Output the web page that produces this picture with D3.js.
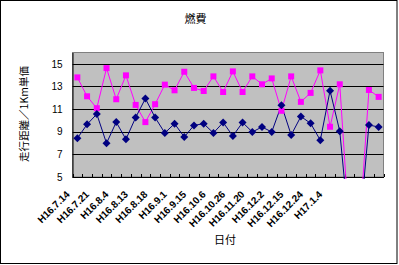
<!DOCTYPE html>
<html>
<head>
<meta charset="utf-8">
<script src="https://cdn.jsdelivr.net/npm/d3@7"></script>
<style>
  body { margin: 0; background: #fff; }
  text { font-family: "Liberation Sans", Arial, sans-serif; }
  .jp { font-family: "Noto Sans CJK JP", sans-serif; }
</style>
</head>
<body>
<div id="chart"></div>
<script>
// category labels shown on every 2nd tick (last ones are blank in the source)
const tickLabels = ['H16.7.14', 'H16.7.21', 'H16.8.4', 'H16.8.13', 'H16.8.18', 'H16.9.1',
  'H16.9.15', 'H16.10.6', 'H16.10.26', 'H16.11.20', 'H16.12.2', 'H16.12.15', 'H16.12.24', 'H17.1.4'];

// pink series (squares)
const pinkValues = [13.8, 12.13, 11.08, 14.62, 11.87, 13.98, 11.37, 9.85, 11.43, 13.16,
  12.66, 14.3, 12.87, 12.6, 13.89, 12.51, 14.33, 12.51, 13.89, 13.19,
  13.71, 10.85, 13.89, 11.64, 12.43, 14.42, 9.44, 13.19, 0, 0, 12.69, 12.08];

// navy series (diamonds)
const navyValues = [8.42, 9.65, 10.56, 7.98, 9.85, 8.33, 10.26, 11.93, 10.26, 8.89,
  9.71, 8.54, 9.56, 9.71, 8.89, 9.82, 8.62, 9.82, 8.98, 9.42,
  8.98, 11.35, 8.71, 10.35, 9.74, 8.25, 12.63, 9.04, 0, 0, 9.59, 9.42];

const yTicks = [5, 7, 9, 11, 13, 15];

const width = 399, height = 265;
const plot = { left: 72.5, right: 383.5, top: 52.5, bottom: 177 };

const svg = d3.select('#chart').append('svg')
  .attr('width', width)
  .attr('height', height);

// outer frame
svg.append('rect')
  .attr('x', 0.5).attr('y', 0.5)
  .attr('width', 396.5).attr('height', 263)
  .attr('fill', '#fff')
  .attr('stroke', '#000');

const x = d3.scaleBand()
  .domain(d3.range(pinkValues.length))
  .range([plot.left, plot.right]);

const y = d3.scaleLinear()
  .domain([5, 16])
  .range([plot.bottom, plot.top]);

// plot area
svg.append('rect')
  .attr('x', plot.left).attr('y', plot.top)
  .attr('width', plot.right - plot.left).attr('height', plot.bottom - plot.top)
  .attr('fill', '#c0c0c0')
  .attr('stroke', '#808080');

// gridlines
svg.append('g')
  .selectAll('line')
  .data(yTicks.filter(d => d > 5))
  .enter().append('line')
  .attr('x1', plot.left).attr('x2', plot.right)
  .attr('y1', d => Math.round(y(d)) + 0.5)
  .attr('y2', d => Math.round(y(d)) + 0.5)
  .attr('stroke', '#000');

// y axis
const yAxis = svg.append('g')
  .attr('transform', 'translate(' + plot.left + ',0)')
  .call(d3.axisLeft(y).tickValues(yTicks).tickSize(0).tickPadding(10));
yAxis.select('.domain').attr('stroke', '#000');
yAxis.selectAll('text').attr('font-size', 10).attr('fill', '#000');

// x axis: ticks between categories, pointing inward
const boundaries = d3.range(pinkValues.length + 1).map(i => plot.left + i * x.bandwidth());
svg.append('g')
  .selectAll('line')
  .data(boundaries)
  .enter().append('line')
  .attr('x1', d => Math.round(d) + 0.5).attr('x2', d => Math.round(d) + 0.5)
  .attr('y1', plot.bottom).attr('y2', plot.bottom - 3)
  .attr('stroke', '#000');

svg.append('line')
  .attr('x1', plot.left).attr('x2', plot.right + 0.5)
  .attr('y1', plot.bottom + 0.5).attr('y2', plot.bottom + 0.5)
  .attr('stroke', '#000');

svg.append('g')
  .selectAll('text')
  .data(tickLabels)
  .enter().append('text')
  .attr('text-anchor', 'end')
  .attr('font-size', 10)
  .attr('font-weight', 'bold')
  .attr('transform', (d, i) => {
    const cx = x(i * 2) + x.bandwidth() / 2;
    return 'translate(' + (cx - 7) + ',' + (plot.bottom + 18) + ') rotate(-45)';
  })
  .text(d => d);

// series lines clipped to the plot
svg.append('clipPath').attr('id', 'clip')
  .append('rect')
  .attr('x', plot.left).attr('y', plot.top)
  .attr('width', plot.right - plot.left).attr('height', plot.bottom - plot.top + 2);

const line = d3.line()
  .x((d, i) => x(i) + x.bandwidth() / 2)
  .y(d => y(d));

const series = svg.append('g').attr('clip-path', 'url(#clip)');

series.append('path')
  .datum(pinkValues)
  .attr('d', line)
  .attr('fill', 'none')
  .attr('stroke', '#ff00ff');

series.append('path')
  .datum(navyValues)
  .attr('d', line)
  .attr('fill', 'none')
  .attr('stroke', '#000080');

// markers, only where the value is inside the axis range
series.append('g')
  .selectAll('rect')
  .data(pinkValues.map((v, i) => ({ v, i })).filter(d => d.v >= 5))
  .enter().append('rect')
  .attr('x', d => x(d.i) + x.bandwidth() / 2 - 3)
  .attr('y', d => y(d.v) - 3)
  .attr('width', 6).attr('height', 6)
  .attr('fill', '#ff00ff');

series.append('g')
  .selectAll('path')
  .data(navyValues.map((v, i) => ({ v, i })).filter(d => d.v >= 5))
  .enter().append('path')
  .attr('transform', d => 'translate(' + (x(d.i) + x.bandwidth() / 2) + ',' + y(d.v) + ')')
  .attr('d', 'M0,-4L4,0L0,4L-4,0Z')
  .attr('fill', '#000080');

// titles
svg.append('text')
  .attr('class', 'jp')
  .attr('x', 195.5).attr('y', 23)
  .attr('text-anchor', 'middle')
  .attr('font-size', 11)
  .text('燃費');

svg.append('text')
  .attr('class', 'jp')
  .attr('x', 225).attr('y', 244)
  .attr('text-anchor', 'middle')
  .attr('font-size', 11)
  .text('日付');

svg.append('text')
  .attr('class', 'jp')
  .attr('transform', 'translate(27.5,114) rotate(-90)')
  .attr('text-anchor', 'middle')
  .attr('font-size', 10.5)
  .text('走行距離／1Km単価');
</script>
</body>
</html>
